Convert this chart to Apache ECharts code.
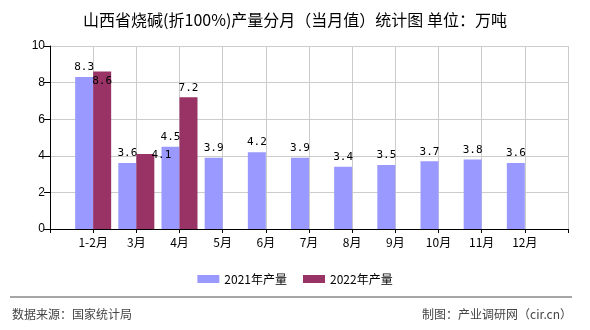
<!DOCTYPE html>
<html>
<head>
<meta charset="utf-8">
<script src="https://cdn.jsdelivr.net/npm/echarts@6/dist/echarts.min.js"></script>
<style>html,body{margin:0;padding:0;background:#fff}#c{width:590px;height:330px}</style>
</head>
<body>
<div id="c"></div>
<script>
var titleText = '山西省烧碱(折100%)产量分月（当月值）统计图 单位：万吨';
var categories = ['', '1-2月', '3月', '4月', '5月', '6月', '7月', '8月', '9月', '10月', '11月', '12月', ''];
var seriesNames = ['2021年产量', '2022年产量'];
var values2021 = [null, 8.3, 3.6, 4.5, 3.9, 4.2, 3.9, 3.4, 3.5, 3.7, 3.8, 3.6, null];
var values2022 = [null, 8.6, 4.1, 7.2, null, null, null, null, null, null, null, null, null];
var yTicks = { min: 0, max: 10, interval: 2 };
var sourceText = '数据来源：国家统计局';
var creditText = '制图：产业调研网（cir.cn）';

var labelOffsets2022 = { 1: [0, 19], 2: [16, 11] };
var data2022 = values2022.map(function (v, i) {
  if (labelOffsets2022[i]) return { value: v, label: { offset: labelOffsets2022[i] } };
  return v;
});
var labelFont = { fontFamily: 'DejaVu Sans Mono', fontSize: 11, color: '#000' };

var chart = echarts.init(document.getElementById('c'), null, { renderer: 'canvas' });
chart.setOption({
  animation: false,
  backgroundColor: '#fff',
  title: {
    text: titleText, left: 'center', top: 7,
    textStyle: { fontFamily: 'Noto Sans CJK SC', fontSize: 16, fontWeight: 'normal', color: '#000' }
  },
  legend: {
    data: seriesNames, left: 'center', top: 268,
    itemWidth: 22, itemHeight: 8, itemGap: 16,
    textStyle: { fontFamily: 'Noto Sans CJK SC', fontSize: 12, color: '#000' },
    icon: 'rect'
  },
  grid: { left: 50, right: 22, top: 46, bottom: 101, containLabel: false },
  xAxis: {
    type: 'category', data: categories, boundaryGap: false,
    axisLine: { lineStyle: { color: '#000', width: 1 } },
    axisTick: { show: true, interval: 0, length: 4, lineStyle: { color: '#000' } },
    axisLabel: { interval: 0, color: '#000', fontFamily: 'Noto Sans CJK SC', fontSize: 12, margin: 7 },
    splitLine: { show: true, interval: 0, lineStyle: { color: '#cccccc', width: 1 } }
  },
  yAxis: {
    type: 'value', min: yTicks.min, max: yTicks.max, interval: yTicks.interval,
    axisLine: { show: true, lineStyle: { color: '#000', width: 1 } },
    axisTick: { show: true, length: 6, lineStyle: { color: '#000' } },
    axisLabel: { color: '#000', fontFamily: 'Liberation Sans', fontSize: 12, margin: 5 },
    splitLine: { show: true, lineStyle: { color: '#cccccc', width: 1 } }
  },
  series: [
    {
      name: seriesNames[0], type: 'bar', data: values2021, barWidth: 18, barGap: '0%',
      itemStyle: { color: '#9999FF' },
      label: Object.assign({ show: true, position: 'top', distance: 4 }, labelFont)
    },
    {
      name: seriesNames[1], type: 'bar', data: data2022, barWidth: 18, barGap: '0%',
      itemStyle: { color: '#993366' },
      label: Object.assign({ show: true, position: 'top', distance: 4 }, labelFont)
    }
  ],
  graphic: [
    { type: 'line', shape: { x1: 10, y1: 297, x2: 572, y2: 297 }, style: { stroke: '#888', lineWidth: 1.5 } },
    { type: 'text', left: 12, top: 308, style: { text: sourceText, fill: '#444', font: '12px "Noto Sans CJK SC"' } },
    { type: 'text', right: 18, top: 308, style: { text: creditText, fill: '#444', font: '12px "Noto Sans CJK SC"' } }
  ]
});
</script>
</body>
</html>
